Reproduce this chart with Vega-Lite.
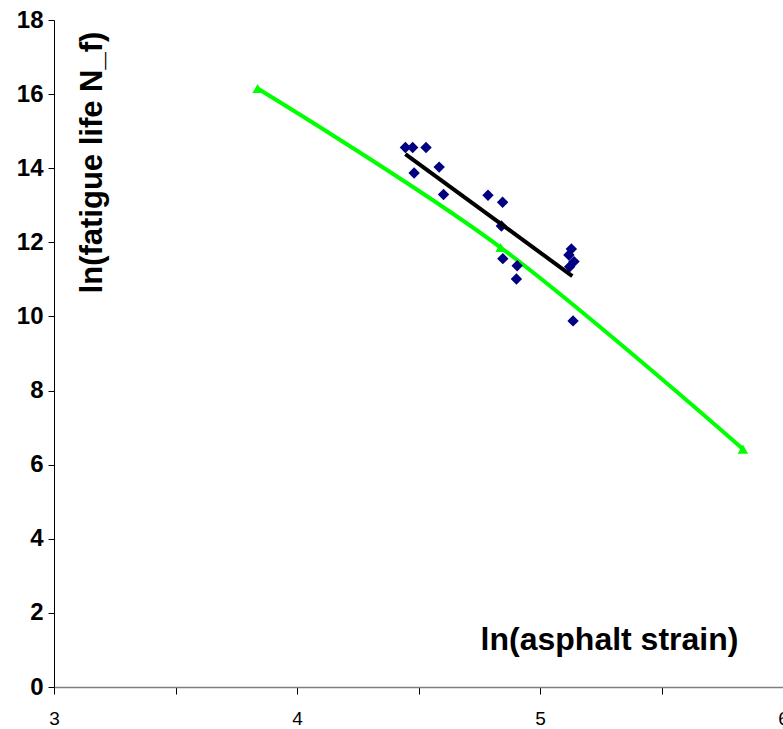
{
  "$schema": "https://vega.github.io/schema/vega-lite/v6.json",
  "autosize": "none",
  "padding": {"left": 54, "top": 20, "right": 0, "bottom": 42},
  "width": 729,
  "height": 667,
  "background": "white",
  "config": {"view": {"stroke": null}, "font": "Liberation Sans"},
  "datasets": {
    "obs": [
      {"x": 4.446, "y": 14.56}, {"x": 4.476, "y": 14.56}, {"x": 4.531, "y": 14.56},
      {"x": 4.585, "y": 14.03}, {"x": 4.482, "y": 13.87}, {"x": 4.603, "y": 13.29},
      {"x": 4.786, "y": 13.27}, {"x": 4.846, "y": 13.08}, {"x": 4.841, "y": 12.44},
      {"x": 5.129, "y": 11.82}, {"x": 5.119, "y": 11.66}, {"x": 5.140, "y": 11.48},
      {"x": 5.122, "y": 11.34}, {"x": 4.847, "y": 11.56}, {"x": 4.906, "y": 11.37},
      {"x": 4.903, "y": 11.01}, {"x": 5.136, "y": 9.88}
    ],
    "fit": [{"x": 4.446, "y": 14.38}, {"x": 5.133, "y": 11.09}],
    "model": [{"x": 3.838, "y": 16.15}, {"x": 4.838, "y": 11.86}, {"x": 5.835, "y": 6.42}]
  },
  "layer": [
    {
      "data": {"name": "model"},
      "mark": {"type": "line", "color": "#00FF00", "strokeWidth": 4, "interpolate": "cardinal", "clip": false},
      "encoding": {
        "x": {"field": "x", "type": "quantitative", "scale": {"domain": [3, 6], "nice": false, "zero": false},
          "axis": {"values": [3, 3.5, 4, 4.5, 5, 5.5, 6], "labelExpr": "datum.value % 1 === 0 ? format(datum.value, 'd') : ''",
            "grid": false, "domainColor": "#808080", "domainWidth": 1.5, "tickColor": "#000000", "tickSize": 7,
            "labelFontSize": 19, "labelColor": "#000000", "labelPadding": 15, "labelFlush": false,
            "title": "ln(asphalt strain)", "titleFontSize": 32, "titleFontWeight": "bold", "titleColor": "#000000",
            "titleX": 555, "titleY": -38, "titleBaseline": "alphabetic", "titleAlign": "center", "titleAnchor": null}},
        "y": {"field": "y", "type": "quantitative", "scale": {"domain": [0, 18], "nice": false},
          "axis": {"values": [0, 2, 4, 6, 8, 10, 12, 14, 16, 18], "grid": false, "domainColor": "#000000",
            "tickColor": "#000000", "tickSize": 6, "labelFontSize": 24, "labelFontWeight": "bold", "labelColor": "#000000",
            "labelPadding": 5, "labelFlush": false,
            "title": "ln(fatigue life N_f)", "titleFontSize": 31, "titleFontWeight": "bold", "titleColor": "#000000",
            "titleAngle": -90, "titleX": 47, "titleY": 142, "titleBaseline": "alphabetic", "titleAlign": "center", "titleAnchor": null}}
      }
    },
    {
      "data": {"name": "model"},
      "mark": {"type": "point", "shape": "triangle-up", "filled": true, "color": "#00FF00", "size": 110, "opacity": 1},
      "encoding": {
        "x": {"field": "x", "type": "quantitative"},
        "y": {"field": "y", "type": "quantitative"}
      }
    },
    {
      "data": {"name": "obs"},
      "mark": {"type": "point", "shape": "diamond", "filled": true, "color": "#000080", "size": 130, "opacity": 1},
      "encoding": {
        "x": {"field": "x", "type": "quantitative"},
        "y": {"field": "y", "type": "quantitative"}
      }
    },
    {
      "data": {"name": "fit"},
      "mark": {"type": "line", "color": "#000000", "strokeWidth": 4},
      "encoding": {
        "x": {"field": "x", "type": "quantitative"},
        "y": {"field": "y", "type": "quantitative"}
      }
    }
  ]
}
